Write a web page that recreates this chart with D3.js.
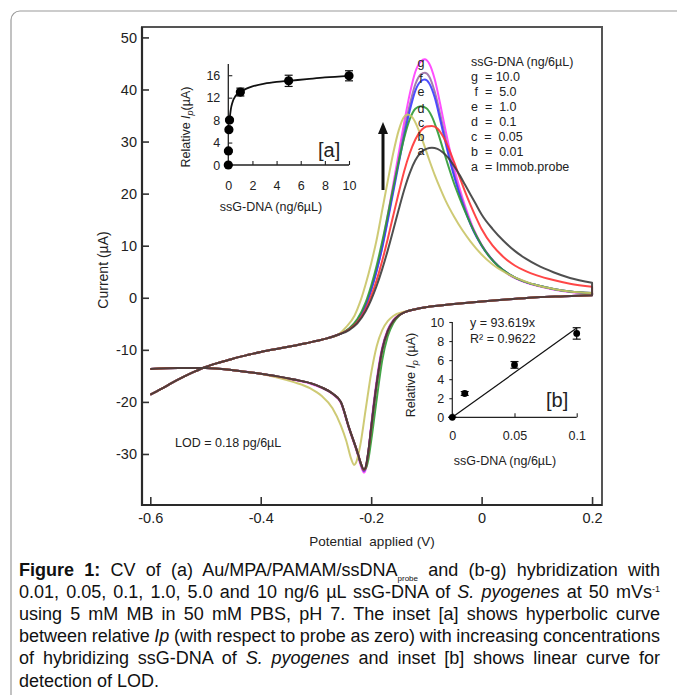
<!DOCTYPE html>
<html lang="en">
<head>
<meta charset="UTF-8">
<title>CV ssG-DNA</title>
<style>
    body { margin: 0; background: #fff; }
    svg { display: block; font-family: "Liberation Sans", Arial, sans-serif; }
    .pre { white-space: pre; }
</style>
</head>
<body>
<script src="https://d3js.org/d3.v7.min.js"></script>
<script>
    /* main plot data: potential (V), current (uA) */
    var potentialTicks = [-0.6, -0.4, -0.2, 0, 0.2];
    var currentTicks = [-30, -20, -10, 0, 10, 20, 30, 40, 50];
    var curveNames = ["a", "b", "c", "d", "e", "f", "g"];

    var upperLeft = [[-0.6,-18.6],[-0.58,-17.5],[-0.56,-16.3],[-0.54,-15.2],[-0.52,-14.2],[-0.5,-13.3],[-0.48,-12.6],
        [-0.46,-12.0],[-0.44,-11.4],[-0.42,-10.9],[-0.4,-10.4],[-0.38,-10.0],[-0.36,-9.6],[-0.34,-9.2],[-0.32,-8.8],
        [-0.3,-8.3],[-0.28,-7.8],[-0.26,-7.1]];
    var lowerTail = [[0.2,0.5],[0.15,0.3],[0.1,0.1],[0.05,-0.3],[0,-0.7],[-0.05,-1.2],[-0.1,-1.8],[-0.12,-2.2]];
    var lowerLeft = [[-0.4,-14.6],[-0.45,-13.9],[-0.5,-13.5],[-0.55,-13.5],[-0.6,-13.7]];

    var upA = [[-0.24,-6.2],[-0.225,-4.9],[-0.21,-2.6],[-0.2,-0.4],[-0.19,2.3],[-0.18,5.5],[-0.17,9.1],[-0.16,13],
        [-0.15,17],[-0.14,20.8],[-0.13,24],[-0.12,26.4],[-0.11,27.9],[-0.1,28.6],[-0.09,28.8],[-0.08,28.6],[-0.07,27.9],
        [-0.06,26.8],[-0.05,25.3],[-0.04,23.6],[-0.03,21.7],[-0.02,19.8],[-0.01,17.9],[0,16],[0.02,13.2],[0.04,10.9],
        [0.06,9],[0.08,7.5],[0.1,6.3],[0.13,4.9],[0.16,3.8],[0.2,2.9]];
    var upB = [[-0.24,-6.1],[-0.225,-4.7],[-0.21,-2.2],[-0.2,0.3],[-0.19,3.4],[-0.18,7.1],[-0.17,11.3],[-0.16,15.8],
        [-0.15,20.2],[-0.14,24.4],[-0.13,27.8],[-0.12,30.4],[-0.11,32.1],[-0.1,32.9],[-0.09,33],[-0.08,32.5],[-0.07,31],
        [-0.06,28.8],[-0.05,26.1],[-0.04,23.2],[-0.03,20.4],[-0.02,17.8],[-0.01,15.4],[0,13.2],[0.02,10],[0.04,7.8],
        [0.06,6.2],[0.08,5.1],[0.1,4.3],[0.13,3.4],[0.16,2.7],[0.2,2.1]];
    var upC = [[-0.245,-5.6],[-0.23,-3.4],[-0.22,-0.8],[-0.21,2.6],[-0.2,6.6],[-0.19,11.2],[-0.18,16.8],[-0.17,22.4],
        [-0.16,27.8],[-0.15,32.2],[-0.14,34.8],[-0.133,35.2],[-0.125,34.6],[-0.115,32.5],[-0.105,29.6],[-0.095,26.5],
        [-0.085,23.6],[-0.075,21],[-0.065,18.6],[-0.05,15.6],[-0.035,13],[-0.02,10.8],[0,8.3],[0.02,6.4],[0.04,5],
        [0.06,3.9],[0.08,3.1],[0.1,2.4],[0.13,1.7],[0.16,1.2],[0.2,0.9]];
    var upD = [[-0.24,-5.9],[-0.225,-4.1],[-0.21,-0.9],[-0.2,2.3],[-0.19,6.2],[-0.18,10.8],[-0.17,15.9],[-0.16,21.2],
        [-0.15,26.2],[-0.14,30.8],[-0.13,34.3],[-0.12,36.3],[-0.11,36.8],[-0.1,36.4],[-0.09,34.8],[-0.08,32],[-0.07,28.6],
        [-0.06,25.2],[-0.05,22],[-0.04,19.2],[-0.03,16.6],[-0.02,14.2],[-0.01,12],[0,10.1],[0.015,7.8],[0.03,6.1],
        [0.05,4.5],[0.075,3.2],[0.1,2.4],[0.13,1.7],[0.16,1.2],[0.2,0.9]];
    var upE = [[-0.24,-6.0],[-0.225,-4.4],[-0.21,-1.5],[-0.2,1.5],[-0.19,5.2],[-0.18,9.6],[-0.17,14.8],[-0.16,20.3],
        [-0.15,25.8],[-0.14,31.2],[-0.13,36],[-0.12,39.8],[-0.11,41.6],[-0.103,41.9],[-0.095,41.2],[-0.085,38.5],
        [-0.075,34.2],[-0.065,29.6],[-0.055,25.3],[-0.045,21.6],[-0.035,18.3],[-0.025,15.4],[-0.015,12.9],[0,10.0],
        [0.015,7.8],[0.03,6.1],[0.05,4.5],[0.075,3.2],[0.1,2.4],[0.13,1.7],[0.16,1.2],[0.2,0.9]];
    var upF = [[-0.24,-6.0],[-0.225,-4.4],[-0.21,-1.5],[-0.2,1.6],[-0.19,5.3],[-0.18,9.8],[-0.17,15.2],[-0.16,20.8],
        [-0.15,26.5],[-0.14,32.1],[-0.13,37.1],[-0.12,41],[-0.11,42.9],[-0.103,43.2],[-0.095,42.5],[-0.085,39.6],
        [-0.075,35.2],[-0.065,30.4],[-0.055,25.9],[-0.045,22],[-0.035,18.6],[-0.025,15.6],[-0.015,13],[0,10.1],
        [0.015,7.8],[0.03,6.1],[0.05,4.5],[0.075,3.2],[0.1,2.4],[0.13,1.7],[0.16,1.2],[0.2,0.9]];
    var upG = [[-0.24,-6.0],[-0.225,-4.4],[-0.21,-1.4],[-0.2,1.7],[-0.19,5.5],[-0.18,10.2],[-0.17,15.8],[-0.16,21.8],
        [-0.15,27.8],[-0.14,33.8],[-0.13,39.2],[-0.12,43.4],[-0.11,45.4],[-0.103,45.8],[-0.095,45],[-0.085,42],
        [-0.075,37.2],[-0.065,32],[-0.055,27.2],[-0.045,23],[-0.035,19.3],[-0.025,16.1],[-0.015,13.3],[0,10.2],
        [0.015,7.9],[0.03,6.1],[0.05,4.4],[0.075,3.1],[0.1,2.3],[0.13,1.6],[0.16,1.1],[0.2,0.8]];

    var lowA = [[-0.14,-2.8],[-0.15,-3.4],[-0.16,-4.5],[-0.17,-6.4],[-0.18,-10],[-0.19,-16.5],[-0.2,-25],[-0.205,-29.4],
        [-0.21,-32.5],[-0.213,-33],[-0.218,-32],[-0.225,-29.6],[-0.24,-25],[-0.255,-20],[-0.27,-18.4],[-0.29,-17.2],
        [-0.31,-16.4],[-0.34,-15.7],[-0.37,-15.1]];
    var lowB = [[-0.14,-2.8],[-0.15,-3.4],[-0.16,-4.5],[-0.17,-6.4],[-0.18,-10],[-0.19,-16.5],[-0.2,-25],[-0.205,-29.5],
        [-0.21,-32.6],[-0.213,-33.1],[-0.218,-32],[-0.225,-29.6],[-0.24,-25],[-0.255,-20],[-0.27,-18.4],[-0.29,-17.2],
        [-0.31,-16.4],[-0.34,-15.7],[-0.37,-15.1]];
    var lowC = [[-0.14,-2.7],[-0.16,-3.5],[-0.17,-4.5],[-0.18,-6.2],[-0.19,-9.3],[-0.2,-14.5],[-0.21,-21.5],[-0.22,-28.5],
        [-0.228,-31.8],[-0.231,-32.1],[-0.236,-31],[-0.245,-27.5],[-0.255,-24.5],[-0.27,-21.2],[-0.29,-18.8],[-0.31,-17.4],
        [-0.34,-16.2],[-0.37,-15.3]];
    var lowD = [[-0.14,-2.8],[-0.15,-3.5],[-0.16,-4.9],[-0.17,-7.4],[-0.18,-12],[-0.19,-19.5],[-0.2,-27.5],[-0.205,-31],
        [-0.21,-32.8],[-0.214,-32.9],[-0.22,-31.4],[-0.226,-29.4],[-0.24,-25],[-0.255,-20],[-0.27,-18.4],[-0.29,-17.2],
        [-0.31,-16.4],[-0.34,-15.7],[-0.37,-15.1]];
    var lowE = [[-0.14,-2.8],[-0.15,-3.4],[-0.16,-4.5],[-0.17,-6.4],[-0.18,-10],[-0.19,-16.5],[-0.2,-25],[-0.205,-29.6],
        [-0.21,-32.7],[-0.213,-33.2],[-0.218,-32.1],[-0.225,-29.6],[-0.24,-25],[-0.255,-20],[-0.27,-18.4],[-0.29,-17.2],
        [-0.31,-16.4],[-0.34,-15.7],[-0.37,-15.1]];
    var lowF = [[-0.14,-2.8],[-0.15,-3.4],[-0.16,-4.4],[-0.17,-6.3],[-0.18,-9.8],[-0.19,-16.2],[-0.2,-24.8],[-0.205,-29.6],
        [-0.21,-32.8],[-0.213,-33.3],[-0.218,-32.2],[-0.225,-29.7],[-0.24,-25],[-0.255,-20],[-0.27,-18.4],[-0.29,-17.2],
        [-0.31,-16.4],[-0.34,-15.7],[-0.37,-15.1]];
    var lowG = [[-0.14,-2.8],[-0.15,-3.3],[-0.16,-4.3],[-0.17,-6.1],[-0.18,-9.5],[-0.19,-15.8],[-0.2,-24.5],[-0.205,-29.6],
        [-0.21,-33],[-0.213,-33.6],[-0.218,-32.5],[-0.225,-29.9],[-0.24,-25.2],[-0.255,-20.2],[-0.27,-18.5],[-0.29,-17.3],
        [-0.31,-16.5],[-0.34,-15.8],[-0.37,-15.2]];

    /* inset [a] : relative Ip vs ssG-DNA */
    var conc = [0, 0.01, 0.05, 0.1, 1, 5, 10];
    var relIp = [0, 2.5, 6.3, 8, 13, 15, 15.9];
    var relIpErr = [0, 0.2, 0.3, 0.3, 0.7, 1.0, 0.9];
    var fitConc = [0.1, 0.2, 0.35, 0.6, 1, 1.5, 2, 3, 4, 5, 6.5, 8, 10];
    var fitIp = [8, 9.8, 11.2, 12.3, 13, 13.6, 14, 14.5, 14.8, 15, 15.3, 15.6, 15.9];
    var insetATicksX = [0, 2, 4, 6, 8, 10];
    var insetATicksY = [0, 4, 8, 12, 16];

    /* inset [b] : linear range */
    var concLow = [0, 0.01, 0.05, 0.1];
    var relIpLow = [0, 2.5, 5.5, 8.8];
    var relIpLowErr = [0, 0.2, 0.35, 0.6];
    var slope = 93.619;
    var insetBTicksX = [0, 0.05, 0.1];
    var insetBTicksY = [0, 2, 4, 6, 8, 10];

    var legendLines = ["ssG-DNA (ng/6\u00b5L)", "g  = 10.0", " f  =  5.0", "e  =  1.0", "d  =  0.1",
        "c  =  0.05", "b  =  0.01", "a  = Immob.probe"];

    var width = 677, height = 695;
    var colors = {a: "#3c3c3c", b: "#ff3333", c: "#c9c466", d: "#2f9a33", e: "#3a3aff", f: "#9a6fa6", g: "#ff3cff"};

    var svg = d3.select("body").append("svg")
        .attr("width", width)
        .attr("height", height);

    /* outer frame */
    svg.append("rect")
        .attr("x", 11).attr("y", 11)
        .attr("width", 720).attr("height", 720)
        .attr("rx", 9)
        .attr("fill", "none")
        .attr("stroke", "#9a9a9a")
        .attr("stroke-width", 1.2);

    var x = d3.scaleLinear().domain([-0.615, 0.218]).range([142, 602]);
    var y = d3.scaleLinear().domain([-39.8, 52]).range([505, 27]);

    /* axes */
    var gy = svg.append("g").attr("transform", "translate(142,0)");
    gy.call(d3.axisLeft(y).tickValues(d3.range(-39, 52, 1)).tickSize(-3).tickFormat(""));
    gy.call(d3.axisLeft(y).tickValues(currentTicks).tickSize(-7).tickPadding(5)
        .tickFormat(function (d) { return String(d); }));
    var gx = svg.append("g").attr("transform", "translate(0,505)");
    gx.call(d3.axisBottom(x).tickValues([-0.5, -0.3, -0.1, 0.1]).tickSize(-4).tickFormat(""));
    gx.call(d3.axisBottom(x).tickValues(potentialTicks).tickSize(-8).tickPadding(8)
        .tickFormat(function (d) { return String(d); }));
    svg.selectAll(".domain").remove();
    svg.selectAll(".tick line").attr("stroke", "#333").attr("stroke-width", 1.6);
    svg.selectAll(".tick text").attr("font-size", "14.5px").attr("fill", "#333")
        .attr("font-family", "Liberation Sans, Arial, sans-serif");

    svg.append("path")
        .attr("d", "M142,27V505H602V27Z")
        .attr("fill", "none")
        .attr("stroke", "#555")
        .attr("stroke-width", 2);
    svg.append("path")
        .attr("d", "M142,27V505H602")
        .attr("fill", "none")
        .attr("stroke", "#2a2a2a")
        .attr("stroke-width", 2.2);

    svg.append("text")
        .attr("transform", "translate(108,270) rotate(-90)")
        .attr("text-anchor", "middle")
        .attr("font-size", "14px")
        .attr("fill", "#222")
        .text("Current (\u00b5A)");
    svg.append("text")
        .attr("class", "pre")
        .attr("x", 372).attr("y", 546)
        .attr("text-anchor", "middle")
        .attr("font-size", "13.5px")
        .attr("fill", "#222")
        .text("Potential  applied (V)");

    /* CV curves: forward branch, then the reverse branch back to -0.6 V */
    var upper = {a: upA, b: upB, c: upC, d: upD, e: upE, f: upF, g: upG};
    var lower = {a: lowA, b: lowB, c: lowC, d: lowD, e: lowE, f: lowF, g: lowG};
    var line = d3.line()
        .x(function (d) { return x(d[0]); })
        .y(function (d) { return y(d[1]); })
        .curve(d3.curveMonotoneX);

    svg.append("g").selectAll("path")
        .data(["g", "f", "e", "d", "c", "b", "a"])
        .enter()
        .append("path")
        .attr("d", function (k) {
            var fwd = upperLeft.concat(upper[k]);
            var rev = lowerTail.concat(lower[k], lowerLeft);
            return line(fwd) + line(rev).replace(/^M/, "L");
        })
        .attr("fill", "none")
        .attr("stroke", function (k) { return colors[k]; })
        .attr("stroke-width", 2)
        .attr("stroke-linejoin", "round")
        .attr("stroke-opacity", 0.9);

    /* curve letters near the peaks */
    var letterY = {g: 67, f: 82.5, e: 96, d: 113, c: 127, b: 141, a: 155};
    svg.selectAll(".letter")
        .data(curveNames)
        .enter()
        .append("text")
        .attr("class", "letter")
        .attr("x", 421)
        .attr("y", function (d) { return letterY[d]; })
        .attr("text-anchor", "middle")
        .attr("font-size", "12.5px")
        .attr("fill", "#222")
        .text(function (d) { return d; });

    /* legend text */
    svg.selectAll(".leg")
        .data(legendLines)
        .enter()
        .append("text")
        .attr("class", "leg pre")
        .attr("x", 471)
        .attr("y", function (d, i) { return 66 + i * 15; })
        .attr("font-size", "12.5px")
        .attr("fill", "#222")
        .text(function (d) { return d; });

    /* arrow */
    svg.append("line")
        .attr("x1", 383).attr("y1", 190)
        .attr("x2", 383).attr("y2", 132)
        .attr("stroke", "#111")
        .attr("stroke-width", 3);
    svg.append("path")
        .attr("d", "M383,122L378,134L388,134Z")
        .attr("fill", "#111");

    svg.append("text")
        .attr("x", 175).attr("y", 447)
        .attr("font-size", "12.5px")
        .attr("fill", "#222")
        .text("LOD = 0.18 pg/6\u00b5L");

    /* inset [a] */
    var xA = d3.scaleLinear().domain([0, 10]).range([228.3, 349]);
    var yA = d3.scaleLinear().domain([0, 18]).range([165, 64]);
    var ga = svg.append("g");
    ga.append("g").attr("transform", "translate(0,165)")
        .call(d3.axisBottom(xA).tickValues(insetATicksX).tickSize(-4).tickPadding(16).tickFormat(d3.format("d")));
    ga.append("g").attr("transform", "translate(228.3,0)")
        .call(d3.axisLeft(yA).tickValues(insetATicksY).tickSize(-4).tickPadding(8).tickFormat(d3.format("d")));
    ga.append("path").attr("d", "M228.3,64V165H349").attr("fill", "none").attr("stroke", "#222").attr("stroke-width", 1.3);

    ga.append("path")
        .datum(d3.zip(fitConc, fitIp))
        .attr("d", d3.line()
            .x(function (d) { return xA(d[0]); })
            .y(function (d) { return yA(d[1]); })
            .curve(d3.curveMonotoneX))
        .attr("fill", "none")
        .attr("stroke", "#111")
        .attr("stroke-width", 1.8);

    var errA = ga.selectAll(".errA").data(conc).enter().append("g").attr("class", "errA");
    errA.append("line")
        .attr("x1", function (d) { return xA(d); }).attr("x2", function (d) { return xA(d); })
        .attr("y1", function (d, i) { return yA(relIp[i] - relIpErr[i]); })
        .attr("y2", function (d, i) { return yA(relIp[i] + relIpErr[i]); });
    errA.append("line")
        .attr("x1", function (d) { return xA(d) - 4; }).attr("x2", function (d) { return xA(d) + 4; })
        .attr("y1", function (d, i) { return yA(relIp[i] + relIpErr[i]); })
        .attr("y2", function (d, i) { return yA(relIp[i] + relIpErr[i]); });
    errA.append("line")
        .attr("x1", function (d) { return xA(d) - 4; }).attr("x2", function (d) { return xA(d) + 4; })
        .attr("y1", function (d, i) { return yA(relIp[i] - relIpErr[i]); })
        .attr("y2", function (d, i) { return yA(relIp[i] - relIpErr[i]); });
    errA.selectAll("line").attr("stroke", "#111").attr("stroke-width", 1.2);

    ga.selectAll(".dotA")
        .data(conc)
        .enter()
        .append("circle")
        .attr("class", "dotA")
        .attr("cx", function (d) { return xA(d); })
        .attr("cy", function (d, i) { return yA(relIp[i]); })
        .attr("r", 4.6)
        .attr("fill", "#000");

    var labA = ga.append("text")
        .attr("transform", "translate(190,127) rotate(-90)")
        .attr("text-anchor", "middle")
        .attr("font-size", "12.5px")
        .attr("fill", "#222");
    labA.append("tspan").text("Relative ");
    labA.append("tspan").attr("font-style", "italic").text("I");
    labA.append("tspan").attr("font-style", "italic").attr("font-size", "9px").attr("dy", 3).text("p");
    labA.append("tspan").attr("dy", -3).text("(\u00b5A)");
    ga.append("text")
        .attr("x", 271).attr("y", 211)
        .attr("text-anchor", "middle")
        .attr("font-size", "12.5px")
        .attr("fill", "#222")
        .text("ssG-DNA (ng/6\u00b5L)");
    ga.append("text")
        .attr("x", 318).attr("y", 157)
        .attr("font-size", "20px")
        .attr("fill", "#222")
        .text("[a]");

    /* inset [b] */
    var xB = d3.scaleLinear().domain([0, 0.1]).range([452.3, 576.7]);
    var yB = d3.scaleLinear().domain([0, 10]).range([417.3, 322]);
    var gb = svg.append("g");
    gb.append("g").attr("transform", "translate(0,417.3)")
        .call(d3.axisBottom(xB).tickValues(insetBTicksX).tickSize(-4).tickPadding(14)
            .tickFormat(function (d) { return String(d); }));
    gb.append("g").attr("transform", "translate(452.3,0)")
        .call(d3.axisLeft(yB).tickValues(insetBTicksY).tickSize(3).tickPadding(5).tickFormat(d3.format("d")));
    gb.append("path").attr("d", "M452.3,322V417.3H576.7").attr("fill", "none").attr("stroke", "#222").attr("stroke-width", 1.2);

    gb.append("line")
        .attr("x1", xB(0)).attr("y1", yB(0))
        .attr("x2", xB(0.1)).attr("y2", yB(slope * 0.1))
        .attr("stroke", "#111")
        .attr("stroke-width", 1.2);

    var errB = gb.selectAll(".errB").data(concLow).enter().append("g").attr("class", "errB");
    errB.append("line")
        .attr("x1", function (d) { return xB(d); }).attr("x2", function (d) { return xB(d); })
        .attr("y1", function (d, i) { return yB(relIpLow[i] - relIpLowErr[i]); })
        .attr("y2", function (d, i) { return yB(relIpLow[i] + relIpLowErr[i]); });
    errB.append("line")
        .attr("x1", function (d) { return xB(d) - 4; }).attr("x2", function (d) { return xB(d) + 4; })
        .attr("y1", function (d, i) { return yB(relIpLow[i] + relIpLowErr[i]); })
        .attr("y2", function (d, i) { return yB(relIpLow[i] + relIpLowErr[i]); });
    errB.append("line")
        .attr("x1", function (d) { return xB(d) - 4; }).attr("x2", function (d) { return xB(d) + 4; })
        .attr("y1", function (d, i) { return yB(relIpLow[i] - relIpLowErr[i]); })
        .attr("y2", function (d, i) { return yB(relIpLow[i] - relIpLowErr[i]); });
    errB.selectAll("line").attr("stroke", "#111").attr("stroke-width", 1.2);

    gb.selectAll(".dotB")
        .data(concLow)
        .enter()
        .append("circle")
        .attr("class", "dotB")
        .attr("cx", function (d) { return xB(d); })
        .attr("cy", function (d, i) { return yB(relIpLow[i]); })
        .attr("r", 3.4)
        .attr("fill", "#000");

    var labB = gb.append("text")
        .attr("transform", "translate(415,375) rotate(-90)")
        .attr("text-anchor", "middle")
        .attr("font-size", "12.5px")
        .attr("fill", "#222");
    labB.append("tspan").text("Relative ");
    labB.append("tspan").attr("font-style", "italic").text("I");
    labB.append("tspan").attr("font-style", "italic").attr("font-size", "9px").attr("dy", 3).text("p");
    labB.append("tspan").attr("dy", -3).text(" (\u00b5A)");
    gb.append("text")
        .attr("x", 505).attr("y", 465)
        .attr("text-anchor", "middle")
        .attr("font-size", "12.5px")
        .attr("fill", "#222")
        .text("ssG-DNA (ng/6\u00b5L)");
    gb.append("text")
        .attr("x", 470).attr("y", 327)
        .attr("font-size", "12.5px")
        .attr("fill", "#222")
        .text("y = 93.619x");
    gb.append("text")
        .attr("x", 470).attr("y", 343)
        .attr("font-size", "12.5px")
        .attr("fill", "#222")
        .text("R\u00b2 = 0.9622");
    gb.append("text")
        .attr("x", 546).attr("y", 407)
        .attr("font-size", "20px")
        .attr("fill", "#222")
        .text("[b]");

    svg.selectAll("g .tick text").attr("fill", "#222");
    ga.selectAll(".domain, .tick line").attr("stroke", "#222");
    gb.selectAll(".domain, .tick line").attr("stroke", "#222");
    ga.selectAll(".tick text").attr("font-size", "12.5px");
    gb.selectAll(".tick text").attr("font-size", "12.5px");
    ga.selectAll(".domain").remove();
    gb.selectAll(".domain").remove();
    ga.selectAll(".tick line").attr("stroke-width", 1.1);
    gb.selectAll(".tick line").attr("stroke-width", 1.1);

    /* caption */
    var captionLines = [
        [["Figure 1:", "b"], [" CV of (a) Au/MPA/PAMAM/ssDNA", ""], ["probe", "sub"], [" and (b-g) hybridization with", ""]],
        [["0.01, 0.05, 0.1, 1.0, 5.0 and 10 ng/6 \u00b5L ssG-DNA of ", ""], ["S. pyogenes", "i"], [" at 50 mVs", ""], ["-1", "sup"]],
        [["using 5 mM MB in 50 mM PBS, pH 7. The inset [a] shows hyperbolic curve", ""]],
        [["between relative ", ""], ["Ip", "i"], [" (with respect to probe as zero) with increasing concentrations", ""]],
        [["of hybridizing ssG-DNA of ", ""], ["S. pyogenes", "i"], [" and inset [b] shows linear curve for", ""]],
        [["detection of LOD.", ""]]
    ];
    var capLeft = 19, capRight = 660;
    captionLines.forEach(function (parts, li) {
        var t = svg.append("text")
            .attr("class", "pre")
            .attr("x", capLeft)
            .attr("y", 575.5 + li * 22.2)
            .attr("font-size", "18px")
            .attr("fill", "#111");
        var shift = 0;
        parts.forEach(function (p) {
            var ts = t.append("tspan").text(p[0]);
            var want = 0;
            if (p[1] === "b") ts.attr("font-weight", "bold");
            if (p[1] === "i") ts.attr("font-style", "italic");
            if (p[1] === "sub") { ts.attr("font-size", "8px"); want = 5; }
            if (p[1] === "sup") { ts.attr("font-size", "9px"); want = -6; }
            if (want !== shift) { ts.attr("dy", want - shift); shift = want; }
        });
        var natural = t.node().getComputedTextLength();
        if (li < captionLines.length - 1) {
            var spaces = parts.map(function (p) { return p[0]; }).join("").split(" ").length - 1;
            t.attr("word-spacing", ((capRight - capLeft - natural) / spaces) + "px");
        }
    });
</script>
</body>
</html>
